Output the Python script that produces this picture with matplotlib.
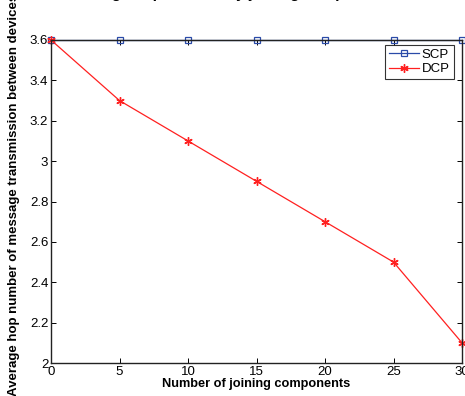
import matplotlib.pyplot as plt

plt.rcParams['font.family'] = ['Liberation Sans', 'DejaVu Sans']

# data
components = [0, 5, 10, 15, 20, 25, 30]
scp = [3.6, 3.6, 3.6, 3.6, 3.6, 3.6, 3.6]
dcp = [3.6, 3.3, 3.1, 2.9, 2.7, 2.5, 2.1]
xticks = [0, 5, 10, 15, 20, 25, 30]
yticks = [2, 2.2, 2.4, 2.6, 2.8, 3, 3.2, 3.4, 3.6]
yticklabels = ['2', '2.2', '2.4', '2.6', '2.8', '3', '3.2', '3.4', '3.6']

fig = plt.figure(figsize=(4.65, 3.96), dpi=100)
ax = fig.add_axes([51 / 465, 33 / 396, 411 / 465, 323 / 396])

ax.plot(components, scp, color='#2a4aa8', lw=0.9, marker='s', ms=5,
        mfc='none', mec='#2a4aa8', mew=0.9, label='SCP', clip_on=False)
ax.plot(components, dcp, color='#ff2020', lw=0.9, marker=(6, 2, 0), ms=6,
        mec='#ff2020', mew=1.0, label='DCP', clip_on=False)

ax.set_xlim(0, 30)
ax.set_ylim(2, 3.6)
ax.set_xticks(xticks)
ax.set_yticks(yticks)
ax.set_yticklabels(yticklabels)
ax.tick_params(direction='in', length=3.5, width=0.7, labelsize=9.5,
               top=True, right=True, pad=2)
for s in ax.spines.values():
    s.set_linewidth(1.0)
    s.set_color('#222222')

ax.set_xlabel('Number of joining components', fontsize=9.2, fontweight='bold', labelpad=0)
ax.set_ylabel('Average hop number of message transmission between devices',
              fontsize=9.5, fontweight='bold')
ax.yaxis.set_label_coords(-0.075, 0.52)

leg = ax.legend(loc='upper right', bbox_to_anchor=(0.98, 0.985), fontsize=9.5,
                frameon=True, fancybox=False, edgecolor='black',
                handlelength=2.3, handletextpad=0.2, borderpad=0.3,
                labelspacing=0.15, borderaxespad=0)
leg.get_frame().set_linewidth(0.8)

# title, almost entirely above the top edge
fig.text(0.5, 1 + 2 / 396, 'Average hop number by joining components',
         ha='center', va='baseline', fontsize=11, fontweight='bold')

fig.savefig('out.png', dpi=100)
